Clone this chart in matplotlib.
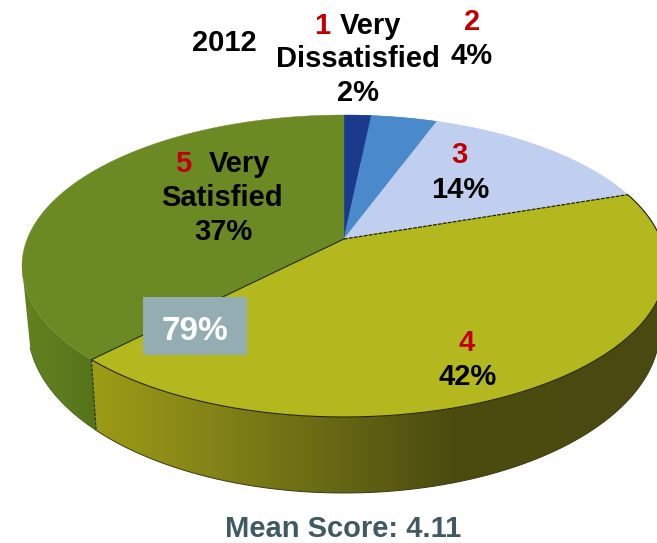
import numpy as np
import matplotlib
matplotlib.use("Agg")
import matplotlib.pyplot as plt
from matplotlib.patches import Polygon, Rectangle

plt.rcParams['font.family'] = ['Liberation Sans', 'DejaVu Sans']

# Data (clockwise from 12 o'clock)
categories = ["1 Very Dissatisfied", "2", "3", "4", "5 Very Satisfied"]
values = [1.6, 3.9, 14.1, 42.0, 37.4]
pct_labels = ["2%", "4%", "14%", "42%", "37%"]
top_colors = ["#1c3a8c", "#4a8aca", "#c0cfef", "#b2b81e", "#6b8a24"]
year_label = "2012"
top_box_label = "79%"
mean_label = "Mean Score: 4.11"

RED = "#c00000"
W, H = 657, 543

fig = plt.figure(figsize=(W / 100, H / 100), dpi=100)
ax = fig.add_axes([0, 0, 1, 1])

# perspective disc: top ellipse, bottom ellipse, apex offset
CX, TCY, TRX, TRY = 344, 266, 322, 151
BCY, BRX, BRY = 328, 316, 165
V0 = (TCY - 239) / TRY


def disc(frac):
    t = 2 * np.pi * np.asarray(frac, dtype=float)
    u, v = np.sin(t), np.cos(t)
    d = 1 + v * V0
    return u * np.sqrt(1 - V0 ** 2) / d, (v + V0) / d


def top_xy(frac):
    U, V = disc(frac)
    return CX + TRX * U, TCY - TRY * V


def bot_xy(frac):
    U, V = disc(frac)
    return CX + BRX * U, BCY - BRY * V


apex = (CX, TCY - TRY * V0)
bounds = np.concatenate([[0], np.cumsum(values)]) / np.sum(values)

grad_stops = {
    3: ([93, 200, 330, 450, 657],
        [(156, 156, 22), (134, 134, 24), (104, 104, 20), (76, 76, 16), (74, 74, 16)]),
    4: ([22, 60, 99],
        [(98, 130, 32), (92, 124, 30), (84, 114, 24)]),
}

# walls
for i in range(len(values)):
    f = np.linspace(bounds[i], bounds[i + 1], 300)
    tx, ty = top_xy(f)
    bx, by = bot_xy(f)
    if i == 4:
        # left silhouette runs straight from the top rim's leftmost point to the lower rim
        keep_t = np.arange(len(f)) <= np.argmin(tx)
        keep_b = by >= 347
        tx, ty, bx, by = tx[keep_t], ty[keep_t], bx[keep_b], by[keep_b]
    pts = np.column_stack([np.r_[tx, bx[::-1]], np.r_[ty, by[::-1]]])
    if i in grad_stops:
        xs, cols = grad_stops[i]
        cols = np.array(cols, dtype=float) / 255
        gx = np.arange(W)
        img = np.stack([np.interp(gx, xs, cols[:, k]) for k in range(3)], axis=-1)[None, :, :]
        poly = Polygon(pts, closed=True, facecolor="none", edgecolor="none", transform=ax.transData)
        ax.add_patch(poly)
        im = ax.imshow(img, extent=(0, W, H, 0), aspect="auto", zorder=1)
        im.set_clip_path(poly)
        ax.plot(bx, by, color="#3a3a10" if i == 3 else "#4f6a1c", lw=0.7, zorder=2)
    else:
        ax.add_patch(Polygon(pts, closed=True, facecolor=top_colors[i], edgecolor="none", zorder=1))

# top faces
for i in range(len(values)):
    f = np.linspace(bounds[i], bounds[i + 1], 200)
    tx, ty = top_xy(f)
    pts = np.column_stack([np.r_[apex[0], tx], np.r_[apex[1], ty]])
    ax.add_patch(Polygon(pts, closed=True, facecolor=top_colors[i],
                         edgecolor=top_colors[i], lw=0.3, zorder=3))

# edges of the yellow slice
f = np.linspace(bounds[3], bounds[4], 300)
tx, ty = top_xy(f)
ax.plot(tx, ty, color="#22240a", lw=0.8, zorder=4)
x3, y3 = top_xy(bounds[3])
x4, y4 = top_xy(bounds[4])
ax.plot([apex[0], x3], [apex[1], y3], color="#20220a", lw=0.9, ls=(0, (3, 1)), zorder=4)
ax.plot([apex[0], x4], [apex[1], y4], color="#20300a", lw=0.8, zorder=4)
bx4, by4 = bot_xy(bounds[4])
ax.plot([x4, bx4], [y4, by4], color="#20300a", lw=0.8, ls=(0, (3, 1)), zorder=4)

# overlay box
ax.add_patch(Rectangle((143, 297), 104, 58, facecolor="#93adb2", edgecolor="none", zorder=5))

FS = 21


def txt(x, y, s, color="black", fs=FS):
    ax.text(x, y + 2, s, color=color, fontsize=fs, fontweight="bold",
            ha="center", va="center", zorder=6)


txt(224, 41, year_label)
txt(322, 24, categories[0].split()[0], RED)
txt(371, 24, categories[0].split()[1])
txt(358, 57, categories[0].split()[2])
txt(358, 91, pct_labels[0])
txt(472, 20, categories[1], RED)
txt(472, 54, pct_labels[1])
txt(459, 153, categories[2], RED)
txt(460, 188, pct_labels[2])
txt(467, 341, categories[3], RED)
txt(468, 375, pct_labels[3])
txt(183, 162, categories[4].split()[0], RED)
txt(240, 162, categories[4].split()[1])
txt(222, 196, categories[4].split()[2])
txt(223, 230, pct_labels[4])
txt(195, 329, top_box_label, "white", 24)
txt(343, 527, mean_label, "#3f5a63", 21)

ax.set_xlim(0, W)
ax.set_ylim(H, 0)
ax.axis("off")
fig.savefig("out.png", dpi=100)
